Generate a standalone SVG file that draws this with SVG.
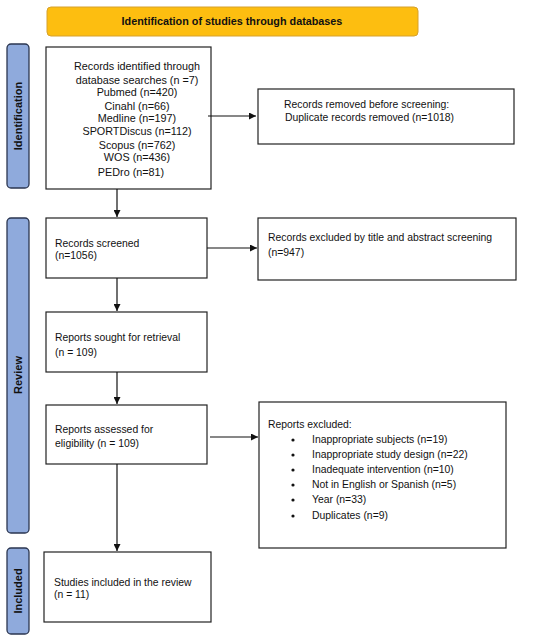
<svg xmlns="http://www.w3.org/2000/svg" width="550" height="641" viewBox="0 0 550 641">
<style>
.box{fill:#ffffff;stroke:#222222;stroke-width:1.2}
.side{fill:#8FAADC;stroke:#2B3650;stroke-width:1.3}
.t{font-family:"Liberation Sans",Arial,sans-serif;font-size:10.4px;fill:#111111}
.tc{font-family:"Liberation Sans",Arial,sans-serif;font-size:10.8px;fill:#111111;text-anchor:middle}
.sl{font-family:"Liberation Sans",Arial,sans-serif;font-size:11px;font-weight:bold;fill:#111111;text-anchor:middle}
.conn{stroke:#111111;stroke-width:1.2;fill:none}
</style>
<defs>
<marker id="ah" viewBox="0 0 10 10" refX="10" refY="5" markerWidth="7" markerHeight="7" markerUnits="userSpaceOnUse" orient="auto">
<path d="M0,0 L10,5 L0,10 z" fill="#111111"/>
</marker>
</defs>
<rect width="550" height="641" fill="#ffffff"/>
<g id="banner">
<rect x="47" y="7" width="371" height="29" rx="4" fill="#FDBE10" stroke="#D6A12C" stroke-width="1"/>
<text x="232" y="25" font-family="Liberation Sans,Arial,sans-serif" font-size="10.8px" font-weight="bold" fill="#111111" text-anchor="middle">Identification of studies through databases</text>
</g>
<g id="side-identification">
<rect class="side" x="7" y="44" width="22" height="144" rx="4"/>
<text class="sl" transform="translate(22,116) rotate(-90)">Identification</text>
</g>
<g id="side-review">
<rect class="side" x="7" y="218" width="22" height="315" rx="4"/>
<text class="sl" transform="translate(22,375) rotate(-90)">Review</text>
</g>
<g id="side-included">
<rect class="side" x="7" y="548" width="22" height="86" rx="4"/>
<text class="sl" transform="translate(22,591) rotate(-90)">Included</text>
</g>
<g id="n-identified">
<rect class="box" x="46" y="47" width="165" height="142"/>
<text class="tc" x="137" y="70">Records identified through</text>
<text class="tc" x="137" y="84">database searches (n =7)</text>
<text class="tc" x="137" y="96">Pubmed (n=420)</text>
<text class="tc" x="137" y="110">Cinahl (n=66)</text>
<text class="tc" x="137" y="122">Medline (n=197)</text>
<text class="tc" x="137" y="135">SPORTDiscus (n=112)</text>
<text class="tc" x="137" y="149">Scopus (n=762)</text>
<text class="tc" x="137" y="161">WOS (n=436)</text>
<text class="tc" x="131" y="176">PEDro (n=81)</text>
</g>
<g id="n-removed">
<rect class="box" x="258" y="89" width="256" height="55"/>
<text class="t" x="284" y="108">Records removed before screening:</text>
<text class="t" x="285" y="121">Duplicate records removed (n=1018)</text>
</g>
<g id="n-screened">
<rect class="box" x="46" y="218" width="161" height="60"/>
<text class="t" x="55" y="247">Records screened</text>
<text class="t" x="55" y="259">(n=1056)</text>
</g>
<g id="n-excluded-title">
<rect class="box" x="258" y="218" width="258" height="62"/>
<text class="t" x="268" y="241">Records excluded by title and abstract screening</text>
<text class="t" x="268" y="256">(n=947)</text>
</g>
<g id="n-sought">
<rect class="box" x="46" y="312" width="161" height="60"/>
<text class="t" x="55" y="341">Reports sought for retrieval</text>
<text class="t" x="55" y="356">(n = 109)</text>
</g>
<g id="n-assessed">
<rect class="box" x="46" y="405" width="161" height="59"/>
<text class="t" x="55" y="433">Reports assessed for</text>
<text class="t" x="55" y="447">eligibility (n = 109)</text>
</g>
<g id="n-excluded-reports">
<rect class="box" x="259" y="402" width="247" height="146"/>
<text class="t" x="268" y="428">Reports excluded:</text>
<g fill="#111111">
<circle cx="293" cy="440" r="1.6"/>
<circle cx="293" cy="455" r="1.6"/>
<circle cx="293" cy="470" r="1.6"/>
<circle cx="293" cy="485" r="1.6"/>
<circle cx="293" cy="500" r="1.6"/>
<circle cx="293" cy="516" r="1.6"/>
</g>
<text class="t" x="312" y="443">Inappropriate subjects (n=19)</text>
<text class="t" x="312" y="458">Inappropriate study design (n=22)</text>
<text class="t" x="312" y="473">Inadequate intervention (n=10)</text>
<text class="t" x="312" y="488">Not in English or Spanish (n=5)</text>
<text class="t" x="312" y="503">Year (n=33)</text>
<text class="t" x="312" y="519">Duplicates (n=9)</text>
</g>
<g id="n-included">
<rect class="box" x="44" y="552" width="167" height="70"/>
<text class="t" x="54" y="586">Studies included in the review</text>
<text class="t" x="54" y="598">(n = 11)</text>
</g>
<g id="connectors">
<line class="conn" x1="208" y1="116" x2="256" y2="116" marker-end="url(#ah)"/>
<line class="conn" x1="117" y1="189" x2="117" y2="217" marker-end="url(#ah)"/>
<line class="conn" x1="207" y1="248" x2="257" y2="248" marker-end="url(#ah)"/>
<line class="conn" x1="117" y1="278" x2="117" y2="311" marker-end="url(#ah)"/>
<line class="conn" x1="117" y1="372" x2="117" y2="404" marker-end="url(#ah)"/>
<line class="conn" x1="210" y1="437" x2="258" y2="437" marker-end="url(#ah)"/>
<line class="conn" x1="117" y1="464" x2="117" y2="551" marker-end="url(#ah)"/>
</g>
</svg>
